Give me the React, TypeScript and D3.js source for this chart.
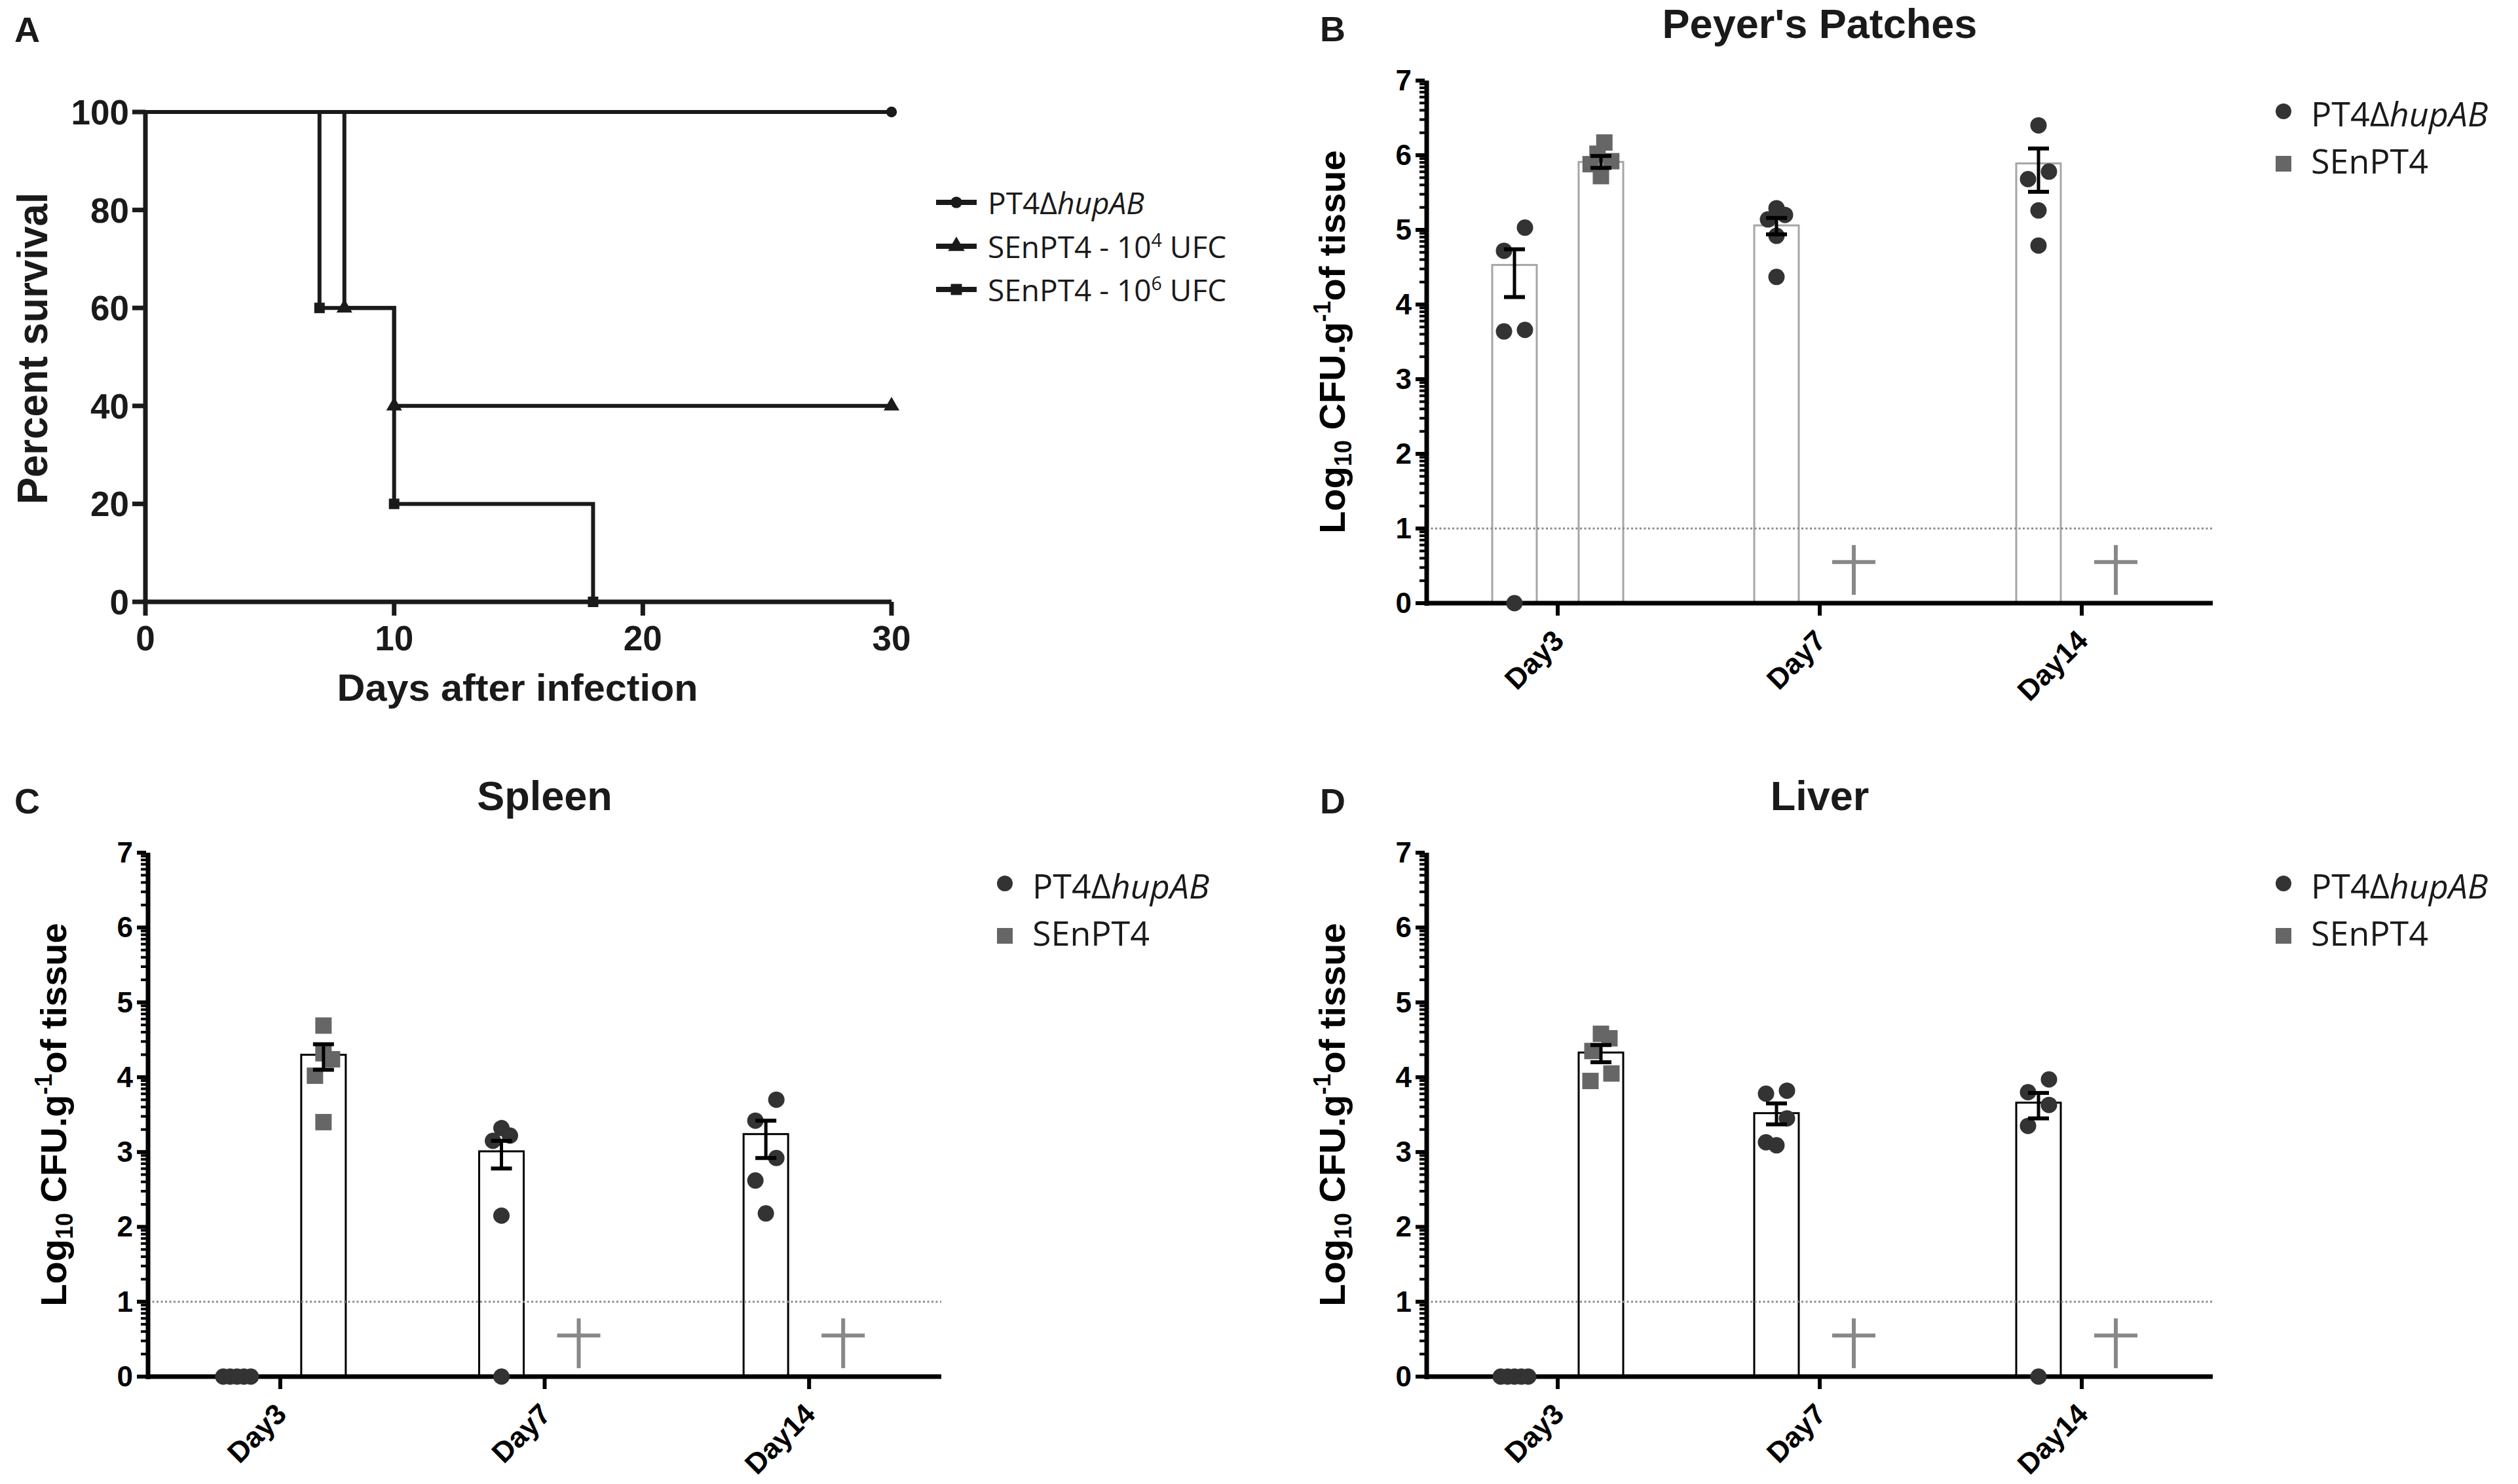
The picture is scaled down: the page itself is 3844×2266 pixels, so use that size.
import React from 'react';
import * as d3 from 'd3';

const W = 3844;
const H = 2266;
const FONT = "'Liberation Sans', Arial, Helvetica, sans-serif";
const LEGFONT = "'Open Sans', 'Noto Sans', sans-serif";
const INK = '#1a1a1a';

// ---------------- Panel A : survival ----------------
const survNames = ['PT4ΔhupAB', 'SEnPT4 - 10^4 UFC', 'SEnPT4 - 10^6 UFC'];
const survTimesPT4 = [0, 30];
const survPctPT4 = [100, 100];
const survTimes4 = [0, 8, 10, 30];
const survPct4 = [100, 60, 40, 40];
const survTimes6 = [0, 7, 10, 18, 30];
const survPct6 = [100, 60, 20, 0, 0];
const survXTicks = [0, 10, 20, 30];
const survYTicks = [0, 20, 40, 60, 80, 100];

// ---------------- Panels B-D : organ burden ----------------
const days = ['Day3', 'Day7', 'Day14'];
const groups = ['PT4ΔhupAB', 'SEnPT4'];
const cfuTicks = [0, 1, 2, 3, 4, 5, 6, 7];
const detectionLimit = 1;
const deathMarkValue = 0.55;

// Peyer's Patches
const ppPT4Mean = [4.53, 5.06, 5.89];
const ppPT4Lo = [4.1, 4.94, 5.51];
const ppPT4Hi = [4.74, 5.16, 6.09];
const ppPT4Pts = [
  [5.03, 4.72, 3.66, 3.64, 0],
  [5.29, 5.2, 5.14, 4.92, 4.37],
  [6.4, 5.78, 5.68, 5.26, 4.79],
];
const ppSEMean = [5.91, null, null];
const ppSELo = [5.83, null, null];
const ppSEHi = [5.99, null, null];
const ppSEPts = [[6.17, 6.02, 5.92, 5.88, 5.72], [], []];
const ppSEDead = [false, true, true];

// Spleen
const spPT4Mean = [0, 3.01, 3.24];
const spPT4Lo = [0, 2.78, 2.92];
const spPT4Hi = [0, 3.15, 3.42];
const spPT4Pts = [
  [0, 0, 0, 0, 0],
  [3.32, 3.22, 3.15, 2.15, 0],
  [3.7, 3.42, 2.92, 2.62, 2.18],
];
const spSEMean = [4.3, null, null];
const spSELo = [4.1, null, null];
const spSEHi = [4.44, null, null];
const spSEPts = [[4.69, 4.32, 4.24, 4.02, 3.4], [], []];
const spSEDead = [false, true, true];

// Liver
const lvPT4Mean = [0, 3.52, 3.66];
const lvPT4Lo = [0, 3.37, 3.45];
const lvPT4Hi = [0, 3.65, 3.79];
const lvPT4Pts = [
  [0, 0, 0, 0, 0],
  [3.82, 3.78, 3.45, 3.13, 3.09],
  [3.97, 3.8, 3.63, 3.35, 0],
];
const lvSEMean = [4.33, null, null];
const lvSELo = [4.2, null, null];
const lvSEHi = [4.43, null, null];
const lvSEPts = [[4.58, 4.52, 4.35, 4.05, 3.95], [], []];
const lvSEDead = [false, true, true];

// ------------------------------------------------------------
function swarm(values: number[]): number[] {
  const idx = values.map((_, i) => i).sort((a, b) => values[b] - values[a]);
  const offsets = new Array(values.length).fill(0);
  let i = 0;
  while (i < idx.length) {
    const top = values[idx[i]];
    let j = i;
    while (j + 1 < idx.length && top - values[idx[j + 1]] < 0.33) j++;
    const grp = idx.slice(i, j + 1);
    const n = grp.length;
    const s = n === 2 ? 32 : n === 3 ? 13 : 10.5;
    const slots = n % 2 === 1 ? [0, 1, -1, 2, -2, 3, -3] : [0.5, -0.5, 1.5, -1.5, 2.5, -2.5];
    grp.forEach((g, k) => (offsets[g] = slots[k] * s));
    i = j + 1;
  }
  return offsets;
}

function Sup({ base, sup, size }: { base: string; sup: string; size: number }) {
  return (
    <>
      {base}
      <tspan dy={-size * 0.38} fontSize={size * 0.62}>{sup}</tspan>
    </>
  );
}

function SurvivalPanel() {
  const x = d3.scaleLinear().domain([0, 30]).range([222, 1361]);
  const y = d3.scaleLinear().domain([0, 100]).range([919, 171]);
  const line = d3
    .line<[number, number]>()
    .x((d) => x(d[0]))
    .y((d) => y(d[1]))
    .curve(d3.curveStepAfter);
  const series = [
    { name: survNames[0], times: survTimesPT4, pct: survPctPT4, symbol: d3.symbolCircle, size: 210 },
    { name: survNames[1], times: survTimes4, pct: survPct4, symbol: d3.symbolTriangle, size: 250 },
    { name: survNames[2], times: survTimes6, pct: survPct6, symbol: d3.symbolSquare, size: 256 },
  ];
  const legY = [327, 394, 460];
  return (
    <g>
      <text x={22} y={64} fontFamily={FONT} fontWeight="bold" fontSize={54} fill={INK}>A</text>
      {/* axes */}
      <line x1={x(0)} x2={x(0)} y1={y(100)} y2={y(0) + 3} stroke={INK} strokeWidth={7} />
      <line x1={x(0) - 3} x2={x(30)} y1={y(0)} y2={y(0)} stroke={INK} strokeWidth={7} />
      {survYTicks.map((t) => (
        <g key={'yt' + t}>
          <line x1={x(0)} x2={x(0) - 20} y1={y(t)} y2={y(t)} stroke={INK} strokeWidth={7} />
          <text x={x(0) - 25} y={y(t) + 19} textAnchor="end" fontFamily={FONT} fontWeight="bold" fontSize={53} fill={INK}>{t}</text>
        </g>
      ))}
      {survXTicks.map((t) => (
        <g key={'xt' + t}>
          <line x1={x(t)} x2={x(t)} y1={y(0)} y2={y(0) + 21} stroke={INK} strokeWidth={7} />
          <text x={x(t)} y={993} textAnchor="middle" fontFamily={FONT} fontWeight="bold" fontSize={53} fill={INK}>{t}</text>
        </g>
      ))}
      <text x={790} y={1070} textAnchor="middle" fontFamily={FONT} fontWeight="bold" fontSize={58} textLength={551} lengthAdjust="spacingAndGlyphs" fill={INK}>Days after infection</text>
      <text transform="translate(72,532) rotate(-90)" textAnchor="middle" fontFamily={FONT} fontWeight="bold" fontSize={64} textLength={476} lengthAdjust="spacingAndGlyphs" fill={INK}>Percent survival</text>
      {/* curves */}
      {series.map((s, si) => {
        const pts = s.times.map((t, i) => [t, s.pct[i]] as [number, number]);
        const marks = pts.filter((p, i) => i > 0 && (s.pct[i] !== s.pct[i - 1] || (i === pts.length - 1 && s.pct[i] > 0)));
        const sym = d3.symbol().type(s.symbol).size(s.size)();
        return (
          <g key={'s' + si}>
            <path d={line(pts) || ''} fill="none" stroke={INK} strokeWidth={6} />
            {marks.map((p, k) => (
              <path key={k} d={sym || ''} transform={`translate(${x(p[0])},${y(p[1])})`} fill={INK} />
            ))}
          </g>
        );
      })}
      {/* legend */}
      {series.map((s, si) => {
        const sym = d3.symbol().type(s.symbol).size(s.size + 30)();
        const cy = legY[si] - 18;
        const parts = s.name.split('^');
        return (
          <g key={'l' + si}>
            <line x1={1429} x2={1491} y1={cy} y2={cy} stroke={INK} strokeWidth={8} />
            <path d={sym || ''} transform={`translate(1460,${cy})`} fill={INK} />
            <text x={1508} y={legY[si]} fontFamily={LEGFONT} fontSize={46} fill={INK}>
              {si === 0 ? (
                <>
                  PT4Δ<tspan fontStyle="italic">hupAB</tspan>
                </>
              ) : (
                <>
                  <Sup base={parts[0]} sup={parts[1].split(' ')[0]} size={46} />
                  <tspan dy={46 * 0.38}>{' ' + parts[1].split(' ').slice(1).join(' ')}</tspan>
                </>
              )}
            </text>
          </g>
        );
      })}
    </g>
  );
}

type Frame = { left: number; right: number; top: number; bottom: number };
type OrganCfg = {
  letter: string;
  title: string;
  frame: Frame;
  barStroke: string;
  mean: (number | null)[][];
  lo: (number | null)[][];
  hi: (number | null)[][];
  pts: number[][][];
  dead: boolean[][];
};

function OrganPanel({ cfg }: { cfg: OrganCfg }) {
  const { left, right, top, bottom } = cfg.frame;
  const x = d3.scaleBand<string>().domain(days).range([left, right]);
  const inner = d3.scalePoint<string>().domain(groups).range([-66, 66]);
  const y = d3.scaleLinear().domain([0, 7]).range([bottom, top]);
  const cx = (d: string) => (x(d) as number) + x.bandwidth() / 2;
  const minor: number[] = [];
  for (let k = 0; k < 7; k++) for (let m = 2; m <= 9; m++) minor.push(k + Math.log10(m));
  const barW = 68;
  const colors = ['#333333', '#666666'];
  const fs = 52;
  return (
    <g>
      <text x={cfg.letter === 'B' || cfg.letter === 'D' ? 2015 : 22} y={top - 60} fontFamily={FONT} fontWeight="bold" fontSize={54} fill={INK}>{cfg.letter}</text>
      <text x={cx('Day7')} y={top - 65} textAnchor="middle" fontFamily={FONT} fontWeight="bold" fontSize={63} fill={INK}>{cfg.title}</text>
      {/* bars */}
      {groups.map((g, gi) =>
        days.map((d, di) => {
          const m = cfg.mean[gi][di];
          if (m == null || m <= 0) return null;
          return (
            <rect key={g + d} x={cx(d) + (inner(g) as number) - barW / 2} y={y(m)} width={barW} height={y(0) - y(m)} fill="#fff" stroke={cfg.barStroke} strokeWidth={3} />
          );
        })
      )}
      {/* detection limit */}
      <line x1={left} x2={right} y1={y(detectionLimit)} y2={y(detectionLimit)} stroke="#8c8c8c" strokeWidth={3} strokeDasharray="3 3.5" />
      {/* axes */}
      <line x1={left} x2={left} y1={top} y2={bottom + 4} stroke="#000" strokeWidth={7} />
      {minor.map((v, i) => (
        <line key={'mn' + i} x1={left - 3} x2={left - 11} y1={y(v)} y2={y(v)} stroke="#000" strokeWidth={4} />
      ))}
      {cfuTicks.map((t) => (
        <g key={'yt' + t}>
          <line x1={left - 3} x2={left - 17} y1={y(t)} y2={y(t)} stroke="#000" strokeWidth={6} />
          <text x={left - 23} y={y(t) + 15} textAnchor="end" fontFamily={FONT} fontWeight="bold" fontSize={44} fill="#000">{t}</text>
        </g>
      ))}
      <line x1={left - 3} x2={right} y1={bottom} y2={bottom} stroke="#000" strokeWidth={7} />
      {days.map((d) => (
        <g key={'xt' + d}>
          <line x1={cx(d)} x2={cx(d)} y1={bottom} y2={bottom + 19} stroke="#000" strokeWidth={6} />
          <text transform={`translate(${cx(d) + 12},${bottom + 60}) rotate(-45)`} textAnchor="end" fontFamily={FONT} fontWeight="bold" fontSize={44} fill="#000">{d}</text>
        </g>
      ))}
      <text transform={`translate(${left - 125},${(top + bottom) / 2}) rotate(-90)`} textAnchor="middle" fontFamily={FONT} fontWeight="bold" fontSize={56} fill="#000">
        Log<tspan fontSize={36} dy={10}>10</tspan>
        <tspan dy={-10}> CFU.g</tspan>
        <tspan fontSize={36} dy={-22}>-1</tspan>
        <tspan dy={22}>of tissue</tspan>
      </text>
      {/* points */}
      {groups.map((g, gi) =>
        days.map((d, di) => {
          const vals = cfg.pts[gi][di];
          const offs = swarm(vals);
          const base = cx(d) + (inner(g) as number);
          return vals.map((v, k) =>
            gi === 0 ? (
              <circle key={g + d + k} cx={base + offs[k]} cy={y(v)} r={12.5} fill={colors[0]} />
            ) : (
              <rect key={g + d + k} x={base + offs[k] - 12.5} y={y(v) - 12.5} width={25} height={25} fill={colors[1]} />
            )
          );
        })
      )}
      {/* error bars */}
      {groups.map((g, gi) =>
        days.map((d, di) => {
          const lo = cfg.lo[gi][di];
          const hi = cfg.hi[gi][di];
          if (lo == null || hi == null || hi <= lo) return null;
          const bx = cx(d) + (inner(g) as number);
          return (
            <g key={'eb' + g + d}>
              <line x1={bx} x2={bx} y1={y(hi)} y2={y(lo)} stroke="#000" strokeWidth={5} />
              <line x1={bx - 16} x2={bx + 16} y1={y(hi)} y2={y(hi)} stroke="#000" strokeWidth={6} />
              <line x1={bx - 16} x2={bx + 16} y1={y(lo)} y2={y(lo)} stroke="#000" strokeWidth={6} />
            </g>
          );
        })
      )}
      {/* death marks */}
      {groups.map((g, gi) =>
        days.map((d, di) => {
          if (!cfg.dead[gi][di]) return null;
          const mx = cx(d) + (inner(g) as number) - 14;
          return (
            <g key={'dm' + g + d} stroke="#888" strokeWidth={6}>
              <line x1={mx} x2={mx} y1={y(deathMarkValue) - 26} y2={y(deathMarkValue) + 50} />
              <line x1={mx - 33} x2={mx + 33} y1={y(deathMarkValue)} y2={y(deathMarkValue)} />
            </g>
          );
        })
      )}
      {/* legend */}
      <circle cx={left + 1308} cy={top + 47} r={12} fill={colors[0]} />
      <text x={left + 1350} y={top + 70} fontFamily={LEGFONT} fontSize={fs} fill={INK}>
        PT4Δ<tspan fontStyle="italic">hupAB</tspan>
      </text>
      <rect x={left + 1296} y={top + 115} width={24} height={24} fill={colors[1]} />
      <text x={left + 1350} y={top + 142} fontFamily={LEGFONT} fontSize={fs} fill={INK}>SEnPT4</text>
    </g>
  );
}

const peyer: OrganCfg = {
  letter: 'B',
  title: "Peyer's Patches",
  frame: { left: 2178, right: 3378, top: 123, bottom: 921 },
  barStroke: '#a6a6a6',
  mean: [ppPT4Mean, ppSEMean],
  lo: [ppPT4Lo, ppSELo],
  hi: [ppPT4Hi, ppSEHi],
  pts: [ppPT4Pts, ppSEPts],
  dead: [[false, false, false], ppSEDead],
};
const spleen: OrganCfg = {
  letter: 'C',
  title: 'Spleen',
  frame: { left: 226, right: 1437, top: 1302, bottom: 2102 },
  barStroke: '#000',
  mean: [spPT4Mean, spSEMean],
  lo: [spPT4Lo, spSELo],
  hi: [spPT4Hi, spSEHi],
  pts: [spPT4Pts, spSEPts],
  dead: [[false, false, false], spSEDead],
};
const liver: OrganCfg = {
  letter: 'D',
  title: 'Liver',
  frame: { left: 2178, right: 3378, top: 1302, bottom: 2102 },
  barStroke: '#000',
  mean: [lvPT4Mean, lvSEMean],
  lo: [lvPT4Lo, lvSELo],
  hi: [lvPT4Hi, lvSEHi],
  pts: [lvPT4Pts, lvSEPts],
  dead: [[false, false, false], lvSEDead],
};

export default function App() {
  return (
    <svg width={W} height={H} viewBox={`0 0 ${W} ${H}`} style={{ position: 'absolute', left: 0, top: 0, display: 'block' }}>
      <rect width={W} height={H} fill="#fff" />
      <SurvivalPanel />
      <OrganPanel cfg={peyer} />
      <OrganPanel cfg={spleen} />
      <OrganPanel cfg={liver} />
    </svg>
  );
}
